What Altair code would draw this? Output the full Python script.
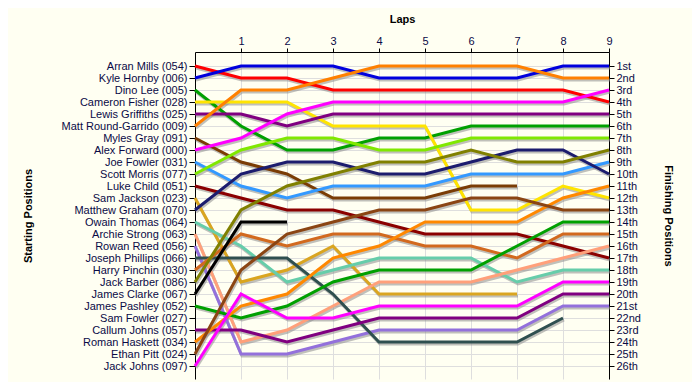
import json
import altair as alt
import pandas as pd

laps = list(range(0, 10))
lap_labels = [1, 2, 3, 4, 5, 6, 7, 8, 9]

drivers = [
    "Arran Mills (054)", "Kyle Hornby (006)", "Dino Lee (005)", "Cameron Fisher (028)",
    "Lewis Griffiths (025)", "Matt Round-Garrido (009)", "Myles Gray (091)",
    "Alex Forward (000)", "Joe Fowler (031)", "Scott Morris (077)", "Luke Child (051)",
    "Sam Jackson (023)", "Matthew Graham (070)", "Owain Thomas (064)",
    "Archie Strong (063)", "Rowan Reed (056)", "Joseph Phillips (066)",
    "Harry Pinchin (030)", "Jack Barber (086)", "James Clarke (067)",
    "James Pashley (052)", "Sam Fowler (027)", "Callum Johns (057)",
    "Roman Haskett (034)", "Ethan Pitt (024)", "Jack Johns (097)",
]

# position at lap 0 (start) .. lap 9; shorter list = retired
positions = [
    [1, 2, 2, 3, 3, 3, 3, 3, 3, 4],
    [2, 1, 1, 1, 2, 2, 2, 2, 1, 1],
    [3, 6, 8, 8, 7, 7, 6, 6, 6, 6],
    [4, 4, 4, 6, 6, 6, 13, 13, 11, 12],
    [5, 5, 6, 5, 5, 5, 5, 5, 5, 5],
    [6, 3, 3, 2, 1, 1, 1, 1, 2, 2],
    [7, 9, 10, 12, 12, 12, 11, 11],
    [8, 7, 5, 4, 4, 4, 4, 4, 4, 3],
    [9, 11, 12, 11, 11, 11, 10, 10, 10, 9],
    [10, 8, 7, 7, 8, 8, 7, 7, 7, 7],
    [11, 12, 13, 13, 14, 15, 15, 15, 16, 17],
    [12, 19, 18, 16, 20, 20, 20, 20],
    [13, 10, 9, 9, 10, 10, 9, 8, 8, 10],
    [14, 16, 19, 18, 17, 17, 17, 19, 18, 18],
    [15, 24, 23, 21, 19, 19, 19, 18, 17, 16],
    [16, 25, 25, 24, 23, 23, 23, 23, 21, 21],
    [17, 17, 17, 20, 24, 24, 24, 24, 22],
    [18, 15, 16, 15, 15, 16, 16, 17, 15, 15],
    [19, 13, 11, 10, 9, 9, 8, 9, 9, 8],
    [20, 14, 14],
    [21, 22, 21, 19, 18, 18, 18, 16, 14, 14],
    [],
    [23, 23, 24, 23, 22, 22, 22, 22, 20, 20],
    [24, 21, 20, 17, 16, 14, 14, 14, 12, 11],
    [25, 18, 15, 14, 13, 13, 12, 12, 13, 13],
    [26, 20, 22, 22, 21, 21, 21, 21, 19, 19],
]

colors = [
    "#ff0000", "#0000dd", "#00a000", "#ffe400", "#800080", "#ff8000", "#7a3c05",
    "#ff00ff", "#3399ff", "#80e800", "#8b0000", "#daa520", "#1c1c6e", "#66cdaa",
    "#ffa07a", "#9370db", "#2f4f4f", "#d2691e", "#808000", "#000000", "#00a000",
    "#999999", "#800080", "#ff8800", "#8b4513", "#ff00ff",
]

finish_labels = ["1st", "2nd", "3rd", "4th", "5th", "6th", "7th", "8th", "9th", "10th",
                 "11th", "12th", "13th", "14th", "15th", "16th", "17th", "18th", "19th",
                 "20th", "21st", "22nd", "23rd", "24th", "25th", "26th"]

rows = []
for d, pos in zip(drivers, positions):
    for lap, p in zip(laps, pos):
        rows.append({"driver": d, "lap": lap, "pos": p})
df = pd.DataFrame(rows)

FONT = "Liberation Sans"
TXT = "#0a0a46"
GRID = "#dedede"
H = 327
W = 414

left_expr = json.dumps([""] + drivers) + "[datum.value]"
right_expr = json.dumps([""] + finish_labels) + "[datum.value]"

yscale = alt.Scale(domain=[27.083, -0.167], nice=False, zero=False)
xscale = alt.Scale(domain=[0, 9], nice=False, zero=False)

xaxis = alt.Axis(
    orient="top", values=lap_labels, title="Laps", titleFont=FONT, titleFontSize=11,
    titleFontWeight="bold", titleColor="#000000", titleBaseline="alphabetic",
    titleY=-30, titleX=W / 2, titleAlign="center",
    labelFont=FONT, labelFontSize=11, labelColor=TXT, tickSize=4, labelPadding=2,
    grid=True, gridColor=GRID, domainColor="#000000", tickColor="#000000",
    labelFlush=False,
)

shadow = alt.Chart(df).mark_line(
    color="#8c8c8c", strokeWidth=3, opacity=0.55, xOffset=1, yOffset=2
).encode(
    x=alt.X("lap:Q", scale=xscale, axis=xaxis),
    y=alt.Y("pos:Q", scale=yscale, axis=alt.Axis(
        orient="right", values=list(range(1, 27)), labelExpr=right_expr,
        title="Finishing Positions", titleAngle=90, titleBaseline="bottom",
        titleX=53, titleY=H / 2, titleAlign="center",
        grid=False, tickSize=5, labelPadding=2, labelColor=TXT, labelFont=FONT,
        labelFontSize=11, titleFont=FONT, titleFontSize=11, titleFontWeight="bold",
        titleColor="#000000", domainColor="#000000", tickColor="#000000",
    )),
    detail="driver:N",
    order="lap:Q",
)

lines = alt.Chart(df).mark_line(strokeWidth=3).encode(
    x=alt.X("lap:Q", scale=xscale, axis=xaxis),
    y=alt.Y("pos:Q", scale=yscale, axis=alt.Axis(
        orient="left", values=list(range(1, 27)), labelExpr=left_expr,
        title="Starting Positions", titleAngle=270, titleBaseline="bottom",
        titleX=-162, titleY=H / 2, titleAlign="center",
        grid=True, gridColor=GRID, tickSize=6, labelPadding=2, labelColor=TXT,
        labelFont=FONT, labelFontSize=11, titleFont=FONT, titleFontSize=11,
        titleFontWeight="bold", titleColor="#000000", domainColor="#000000",
        tickColor="#000000", labelOverlap=False,
    )),
    color=alt.Color("driver:N", scale=alt.Scale(domain=drivers, range=colors), legend=None),
    order="lap:Q",
)

chart = alt.layer(shadow, lines).resolve_scale(y="shared").resolve_axis(y="independent").properties(
    width=W, height=H,
    background="#fffff2",
    autosize=alt.AutoSizeParams(type="none"),
    padding={"left": 187, "top": 44, "right": 83, "bottom": 3},
).configure_view(strokeWidth=0)

chart.save("out.html", embed_options={"renderer": "svg", "actions": False})
